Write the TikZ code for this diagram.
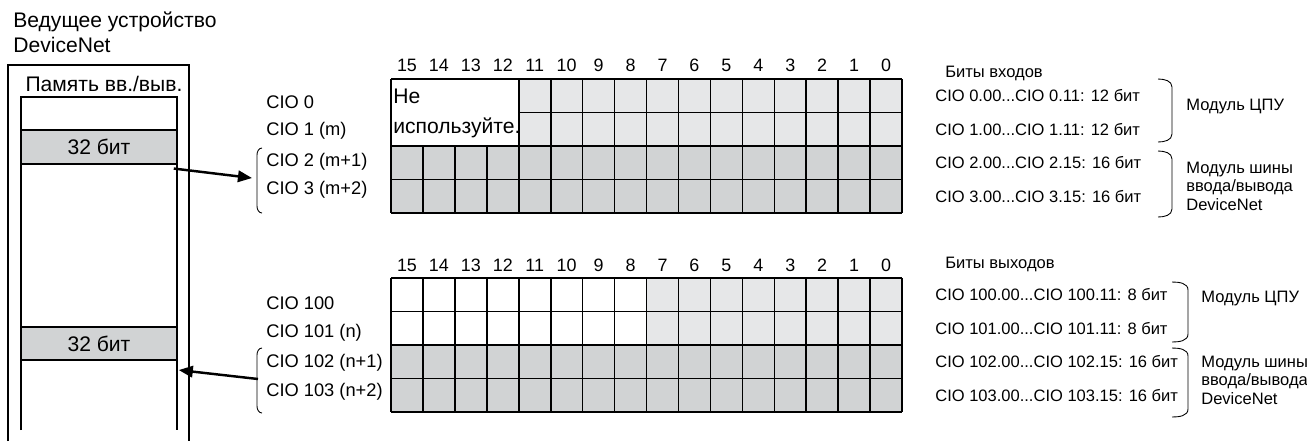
\documentclass[tikz,border=0pt]{standalone}
\usepackage{fontspec}
\setmainfont{Liberation Sans}
\usetikzlibrary{arrows.meta}
\definecolor{lgray}{HTML}{E6E7E8}
\definecolor{dgray}{HTML}{D1D3D4}
\begin{document}
\begin{tikzpicture}[x=0.02cm, y=-0.02cm,
  big/.style={font=\fontsize{12}{14.2}\selectfont, inner sep=0pt},
  lbl/.style={font=\fontsize{10.4}{12}\selectfont, anchor=west, inner sep=0pt},
  sml/.style={font=\fontsize{9.4}{10.5}\selectfont, anchor=west, inner sep=0pt},
  num/.style={font=\fontsize{10.2}{12}\selectfont, inner sep=0pt},
  blk/.style={big, draw, line width=0.9pt, fill=dgray,
              minimum width=3.12cm, minimum height=0.67cm},
  gline/.style={line width=0.9pt},
  mline/.style={line width=0.6pt},
  arr/.style={line width=1.4pt, -{Triangle[length=8pt, width=6.5pt]}},
  brc/.style={line width=0.5pt}
]
  \useasboundingbox (0,0) rectangle (1307,441);

  \node[big, anchor=west, align=left] (title) at (13,32) {Ведущее устройство\\DeviceNet};

  \draw[mline] (8,441) -- (8,65) -- (189,65) -- (189,441);
  \draw[mline] (21,430) -- (21,97) -- (177,97) -- (177,430);
  \node[big] (mem) at (104,84) {Память вв./выв.};
  \node[blk] (b1) at (99,147) {32 бит};
  \node[blk] (b2) at (99,343.5) {32 бит};

  \node[lbl] (c0) at (266,102) {CIO 0};
  \node[lbl] (c1) at (266,131) {CIO 1 (m)};
  \node[lbl] (c2) at (266,162) {CIO 2 (m+1)};
  \node[lbl] (c3) at (266,190) {CIO 3 (m+2)};
  \node[lbl] (c100) at (266,303) {CIO 100};
  \node[lbl] (c101) at (266,333) {CIO 101 (n)};
  \node[lbl] (c102) at (266,363) {CIO 102 (n+1)};
  \node[lbl] (c103) at (266,392) {CIO 103 (n+2)};

  \draw[brc] (262,148) to[out=180,in=90] (257,155) -- (257,206) to[out=-90,in=180] (262,213);
  \draw[brc] (262,348) to[out=180,in=90] (257,355) -- (257,406) to[out=-90,in=180] (262,413);

  \coordinate (p1) at (252,178);
  \coordinate (p2) at (258,379);
  \draw[arr] ([shift={(-4,4)}]b1.south east) -- (p1);
  \draw[arr] (p2) -- ([shift={(1,9)}]b2.south east);

  \fill[dgray] (391,146) rectangle (902,213);
  \fill[lgray] (518.76,79) rectangle (902,146);
  \draw[gline] (391,79) -- (391,213);
  \foreach \k in {4,...,16} \draw[gline] ({391+\k*31.94},79) -- ({391+\k*31.94},213);
  \foreach \k in {1,2,3} \draw[gline] ({391+\k*31.94},146) -- ({391+\k*31.94},213);
  \foreach \y in {79,146,179.5,213} \draw[gline] (391,\y) -- (902,\y);
  \draw[gline] (518.76,112.5) -- (902,112.5);
  \node[big, anchor=west] (nu1) at (393,96) {Не};
  \node[big, anchor=west] (nu2) at (393,128) {используйте.};
  \foreach \k in {0,...,15} {
    \pgfmathtruncatemacro\b{15-\k}
    \node[num] (ti\b) at ({391+(\k+0.5)*31.94},65) {\b};
  }

  \fill[dgray] (391,345) rectangle (902,412);
  \fill[lgray] (646.5,278) rectangle (902,345);
  \foreach \k in {0,...,16} \draw[gline] ({391+\k*31.94},278) -- ({391+\k*31.94},412);
  \foreach \y in {278,311.5,345,378.5,412} \draw[gline] (391,\y) -- (902,\y);
  \foreach \k in {0,...,15} {
    \pgfmathtruncatemacro\b{15-\k}
    \node[num] (to\b) at ({391+(\k+0.5)*31.94},265) {\b};
  }

  \node[sml] (bi) at (945,73) {Биты входов};
  \node[sml] (r0) at (935,95.75) {CIO 0.00...CIO 0.11: 12 бит};
  \node[sml] (r1) at (935,129.25) {CIO 1.00...CIO 1.11: 12 бит};
  \node[sml] (r2) at (935,162.75) {CIO 2.00...CIO 2.15: 16 бит};
  \node[sml] (r3) at (935,196.25) {CIO 3.00...CIO 3.15: 16 бит};
  \node[sml] (bo) at (945,264) {Биты выходов};
  \node[sml] (r100) at (935,294.75) {CIO 100.00...CIO 100.11: 8 бит};
  \node[sml] (r101) at (935,328.25) {CIO 101.00...CIO 101.11: 8 бит};
  \node[sml] (r102) at (935,361.75) {CIO 102.00...CIO 102.15: 16 бит};
  \node[sml] (r103) at (935,395.25) {CIO 103.00...CIO 103.15: 16 бит};

  \draw[brc] (1158,79) to[out=0,in=90] (1172,87) -- (1172,134) to[out=-90,in=0] (1158,142);
  \draw[brc] (1158,151) to[out=0,in=90] (1172,159) -- (1172,209) to[out=-90,in=0] (1158,217);
  \draw[brc] (1172,282) to[out=0,in=90] (1188,290) -- (1188,334) to[out=-90,in=0] (1172,342);
  \draw[brc] (1172,348) to[out=0,in=90] (1188,356) -- (1188,409) to[out=-90,in=0] (1172,417);

  \node[sml] (cpu1) at (1186,107) {Модуль ЦПУ};
  \node[sml, align=left] (bus1) at (1186,186) {Модуль шины\\ввода/вывода\\DeviceNet};
  \node[sml] (cpu2) at (1201,299) {Модуль ЦПУ};
  \node[sml, align=left] (bus2) at (1201,380) {Модуль шины\\ввода/вывода\\DeviceNet};
\end{tikzpicture}
\end{document}
